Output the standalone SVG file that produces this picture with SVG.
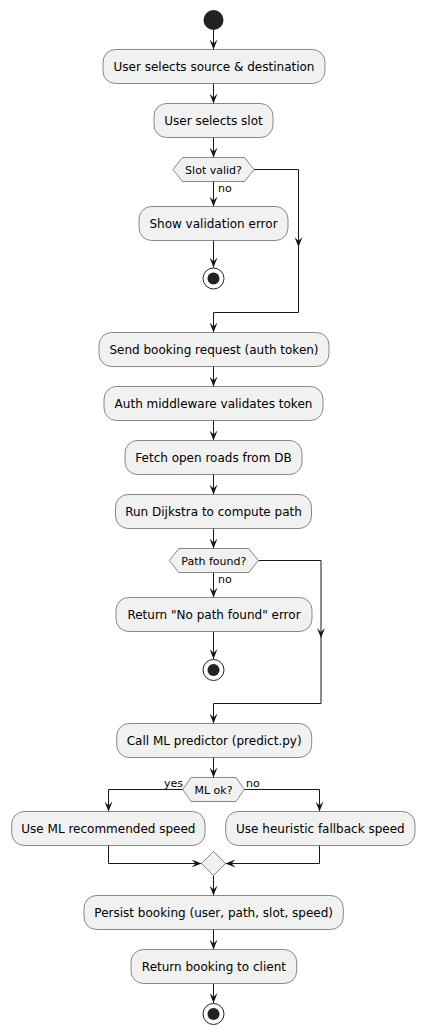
<svg xmlns="http://www.w3.org/2000/svg" width="424" height="1035" viewBox="0 0 424 1035">
<style>
.box{fill:#F1F1F1;stroke:#181818;stroke-width:0.5}
.dia{fill:#F1F1F1;stroke:#181818;stroke-width:0.5}
.t{font-family:"DejaVu Sans",sans-serif;font-size:12px;fill:#000;text-anchor:middle}
.td{font-family:"DejaVu Sans",sans-serif;font-size:11px;fill:#000;text-anchor:middle}
.tl{font-family:"DejaVu Sans",sans-serif;font-size:11px;fill:#000}
.ln{fill:none;stroke:#181818;stroke-width:1}
.ar{marker-end:url(#ah)}
.start{fill:#222222}
.stopo{fill:none;stroke:#222222;stroke-width:1}
.stopi{fill:#222222}
</style>
<defs>
<marker id="ah" viewBox="0 0 10 8" refX="10" refY="4" markerWidth="10" markerHeight="8" markerUnits="userSpaceOnUse" orient="auto">
<path d="M0,0 L10,4 L0,8 L4,4 Z" fill="#181818"/>
</marker>
</defs>
<g id="connectors">
<path class="ln ar" d="M213.5,30 V49.5"/>
<path class="ln ar" d="M213.5,83.5 V103.5"/>
<path class="ln ar" d="M213.5,137.5 V157.5"/>
<path class="ln ar" d="M213.5,181.5 V206.5"/>
<path class="ln ar" d="M213.5,240.5 V267.5"/>
<path class="ln ar" d="M254,169.5 H298.5 V247"/>
<path class="ln ar" d="M298.5,247 V312.5 H213.5 V332.5"/>
<path class="ln ar" d="M213.5,366.5 V386.5"/>
<path class="ln ar" d="M213.5,420.5 V440.5"/>
<path class="ln ar" d="M213.5,474.5 V494.5"/>
<path class="ln ar" d="M213.5,528.5 V548.5"/>
<path class="ln ar" d="M213.5,572.5 V597.5"/>
<path class="ln ar" d="M213.5,631.5 V659"/>
<path class="ln ar" d="M258.3,560.5 H321 V638"/>
<path class="ln ar" d="M321,638 V703.5 H213.5 V723.5"/>
<path class="ln ar" d="M213.5,757.5 V777.5"/>
<path class="ln ar" d="M182.7,789.5 H108.5 V811.5"/>
<path class="ln ar" d="M244.3,789.5 H319.5 V811.5"/>
<path class="ln ar" d="M108.5,845.5 V863.5 H201.5"/>
<path class="ln ar" d="M319.5,845.5 V863.5 H225.5"/>
<path class="ln ar" d="M213.5,875.5 V895.5"/>
<path class="ln ar" d="M213.5,929.5 V949.5"/>
<path class="ln ar" d="M213.5,983.5 V1003"/>
<text class="tl" x="218" y="192">no</text>
<text class="tl" x="218" y="583">no</text>
<text class="tl" x="164" y="787">yes</text>
<text class="tl" x="246" y="787">no</text>
</g>
<g id="start"><circle class="start" cx="213.5" cy="20" r="10"/></g>
<g id="n1"><rect class="box" x="103" y="49.5" width="222" height="34" rx="12.5"/><text class="t" x="214" y="70.8">User selects source &amp; destination</text></g>
<g id="n2"><rect class="box" x="154" y="103.5" width="119" height="34" rx="12.5"/><text class="t" x="213.5" y="124.8">User selects slot</text></g>
<g id="d1"><polygon class="dia" points="173,169.5 182.5,157.5 244.5,157.5 254,169.5 244.5,181.5 182.5,181.5"/><text class="td" x="213.5" y="173.5">Slot valid?</text></g>
<g id="n3"><rect class="box" x="139" y="206.5" width="149" height="34" rx="12.5"/><text class="t" x="213.5" y="227.8">Show validation error</text></g>
<g id="stop1"><circle class="stopo" cx="213.5" cy="278.5" r="10.5"/><circle class="stopi" cx="213.5" cy="278.5" r="6"/></g>
<g id="n4"><rect class="box" x="99" y="332.5" width="230" height="34" rx="12.5"/><text class="t" x="214" y="353.8">Send booking request (auth token)</text></g>
<g id="n5"><rect class="box" x="104" y="386.5" width="219" height="34" rx="12.5"/><text class="t" x="213.5" y="407.8">Auth middleware validates token</text></g>
<g id="n6"><rect class="box" x="125" y="440.5" width="177" height="34" rx="12.5"/><text class="t" x="213.5" y="461.8">Fetch open roads from DB</text></g>
<g id="n7"><rect class="box" x="115.5" y="494.5" width="196" height="34" rx="12.5"/><text class="t" x="213.5" y="515.8">Run Dijkstra to compute path</text></g>
<g id="d2"><polygon class="dia" points="169.3,560.5 178.8,548.5 248.8,548.5 258.3,560.5 248.8,572.5 178.8,572.5"/><text class="td" x="213.8" y="564.5">Path found?</text></g>
<g id="n8"><rect class="box" x="116" y="597.5" width="196" height="34" rx="12.5"/><text class="t" x="214" y="618.8">Return "No path found" error</text></g>
<g id="stop2"><circle class="stopo" cx="213.5" cy="670" r="10.5"/><circle class="stopi" cx="213.5" cy="670" r="6"/></g>
<g id="n9"><rect class="box" x="116.7" y="723.5" width="195" height="34" rx="12.5"/><text class="t" x="214.2" y="744.8">Call ML predictor (predict.py)</text></g>
<g id="d3"><polygon class="dia" points="182.7,789.5 191,777.5 236,777.5 244.3,789.5 236,801.5 191,801.5"/><text class="td" x="213.5" y="793.5">ML ok?</text></g>
<g id="n10"><rect class="box" x="11.7" y="811.5" width="193.3" height="34" rx="12.5"/><text class="t" x="108.4" y="832.8">Use ML recommended speed</text></g>
<g id="n11"><rect class="box" x="225.7" y="811.5" width="189.3" height="34" rx="12.5"/><text class="t" x="320.4" y="832.8">Use heuristic fallback speed</text></g>
<g id="merge"><polygon class="dia" points="213.5,851.5 225.5,863.5 213.5,875.5 201.5,863.5"/></g>
<g id="n12"><rect class="box" x="84" y="895.5" width="259.3" height="34" rx="12.5"/><text class="t" x="213.7" y="916.8">Persist booking (user, path, slot, speed)</text></g>
<g id="n13"><rect class="box" x="131" y="949.5" width="165.7" height="34" rx="12.5"/><text class="t" x="213.9" y="970.8">Return booking to client</text></g>
<g id="stop3"><circle class="stopo" cx="213.5" cy="1014" r="10.5"/><circle class="stopi" cx="213.5" cy="1014" r="6"/></g>
</svg>
